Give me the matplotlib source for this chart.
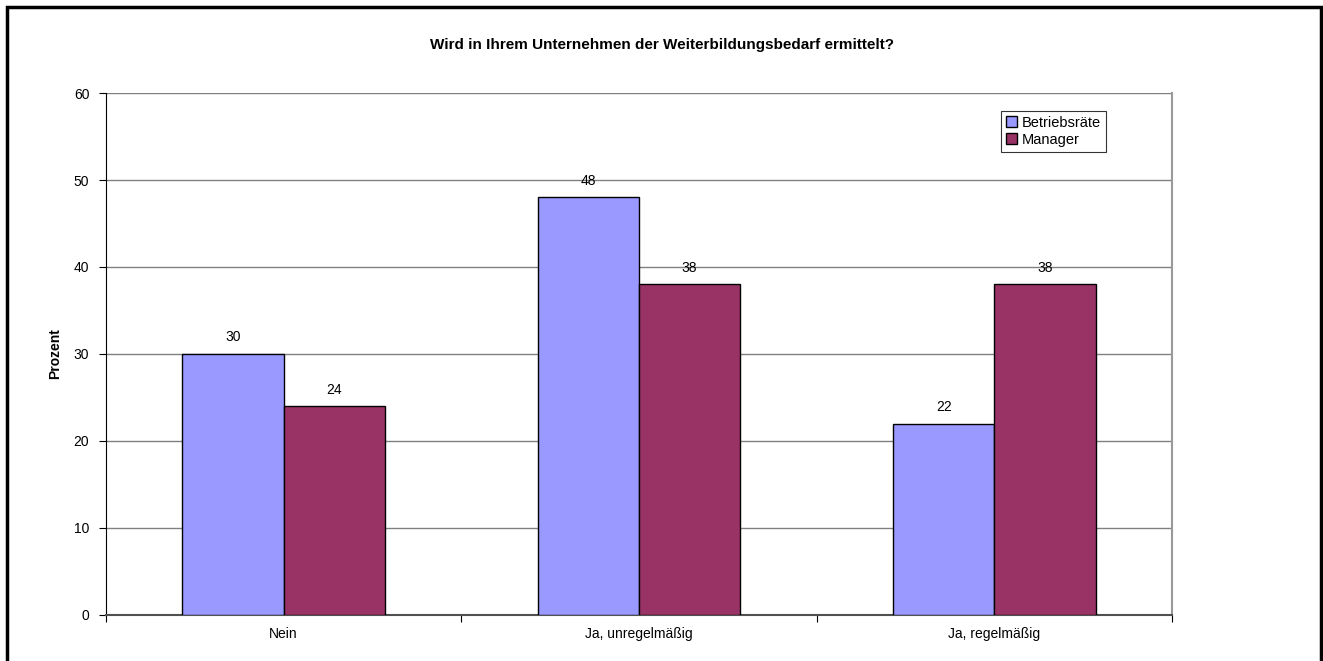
import numpy as np
import matplotlib
matplotlib.use("Agg")
import matplotlib.pyplot as plt
from matplotlib.patches import Rectangle

plt.rcParams['font.family'] = ['Liberation Sans', 'DejaVu Sans']

# Wird in Ihrem Unternehmen der Weiterbildungsbedarf ermittelt?
categories = ["Nein", "Ja, unregelmäßig", "Ja, regelmäßig"]
betriebsraete = [30, 48, 22]
manager = [24, 38, 38]
series_names = ["Betriebsräte", "Manager"]
colors = ["#9999FF", "#993366"]

fig = plt.figure(figsize=(13.23, 6.61), dpi=100)
ax = fig.add_axes([0.0801, 0.0696, 0.8058, 0.7897])

x = np.arange(len(categories))
w = 0.285
bars1 = ax.bar(x - w / 2, betriebsraete, w, color=colors[0], edgecolor="black",
               linewidth=1.0, label=series_names[0], zorder=3)
bars2 = ax.bar(x + w / 2, manager, w, color=colors[1], edgecolor="black",
               linewidth=1.0, label=series_names[1], zorder=3)

for bars in (bars1, bars2):
    for b in bars:
        ax.text(b.get_x() + b.get_width() / 2, b.get_height() + 1.1,
                "%d" % b.get_height(), ha="center", va="bottom", fontsize=10)

ax.set_xlim(-0.5, len(categories) - 0.5)
ax.set_ylim(0, 60)
ax.set_yticks(range(0, 61, 10))
ax.yaxis.grid(True, color="#808080", linewidth=1.0, zorder=0)
ax.tick_params(axis="y", labelsize=10, length=5, direction="out", pad=7)

# category labels between boundary ticks
ax.set_xticks(np.arange(-0.5, len(categories), 1.0))
ax.set_xticklabels([])
ax.tick_params(axis="x", length=5, direction="out", color="black")
ax.set_xticks(x, minor=True)
ax.set_xticklabels(categories, minor=True, fontsize=10)
ax.tick_params(axis="x", which="minor", length=0, pad=9)

ax.spines["top"].set_visible(False)
ax.spines["left"].set_color("black")
ax.spines["bottom"].set_color("#505050")
ax.spines["bottom"].set_linewidth(1.5)
ax.spines["right"].set_color("#999999")
ax.spines["right"].set_linewidth(1.5)

ax.set_ylabel("Prozent", fontsize=10, fontweight="bold", labelpad=8)

fig.text(0.5, 0.932, "Wird in Ihrem Unternehmen der Weiterbildungsbedarf ermittelt?",
         ha="center", va="center", fontsize=11, fontweight="bold")

leg = ax.legend(loc="upper right", bbox_to_anchor=(0.938, 0.966), fontsize=10.5,
                frameon=True, fancybox=False, edgecolor="black",
                handlelength=0.8, handleheight=0.8, handletextpad=0.3,
                borderpad=0.35, labelspacing=0.2, borderaxespad=0)
leg.get_frame().set_linewidth(0.8)

fig.patches.append(Rectangle((0.0053, -0.02), 0.9932, 1.0094, transform=fig.transFigure,
                             fill=False, edgecolor="black", linewidth=2.5))

fig.savefig("out.png", dpi=100)
